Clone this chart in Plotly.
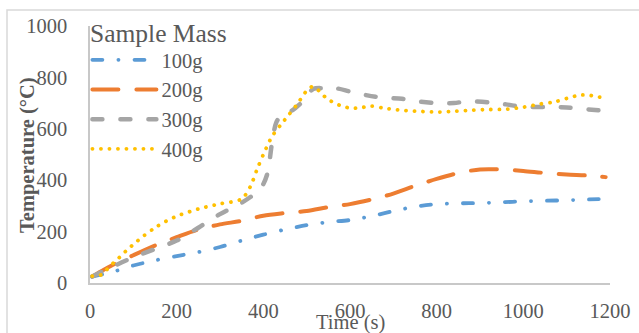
import plotly.graph_objects as go

# ---- data ----
series_names = ["100g", "200g", "300g", "400g"]
legend_title = "Sample Mass"

t_100 = [5, 50, 100, 150, 200, 250, 300, 350, 400, 450, 500, 550, 600, 650, 700,
         750, 800, 850, 900, 950, 1000, 1050, 1100, 1150, 1190]
T_100 = [25, 42, 68, 88, 105, 120, 140, 165, 188, 208, 225, 237, 245, 260, 280,
         297, 307, 310, 311, 314, 318, 320, 322, 325, 327]

t_200 = [5, 25, 50, 100, 150, 200, 250, 300, 350, 400, 450, 500, 550, 600, 650,
         700, 750, 800, 850, 900, 950, 1000, 1050, 1100, 1150, 1190]
T_200 = [25, 45, 68, 108, 146, 178, 208, 228, 242, 262, 272, 280, 295, 307, 325,
         348, 378, 405, 428, 442, 442, 436, 428, 422, 418, 412]

t_300 = [5, 50, 100, 150, 200, 250, 300, 350, 385, 400, 410, 420, 430, 445, 465,
         490, 515, 540, 570, 600, 640, 680, 720, 760, 800, 840, 870, 920, 960,
         1000, 1050, 1100, 1140, 1200]
T_300 = [25, 62, 100, 132, 165, 215, 268, 312, 354, 385, 430, 545, 625, 660, 670,
         705, 755, 758, 757, 745, 730, 720, 717, 706, 700, 700, 707, 703, 695,
         685, 685, 683, 677, 668]

t_400 = [5, 25, 40, 55, 70, 85, 100, 125, 150, 175, 200, 250, 300, 350, 370, 385,
         400, 420, 440, 460, 480, 500, 515, 530, 545, 560, 580, 600, 620, 650,
         680, 720, 760, 800, 840, 880, 920, 960, 1000, 1040, 1070, 1100, 1130,
         1150, 1185]
T_400 = [27, 31, 54, 80, 103, 128, 150, 185, 215, 240, 260, 288, 308, 327, 375,
         440, 500, 570, 615, 657, 700, 748, 765, 745, 720, 704, 689, 681, 681,
         688, 680, 672, 668, 665, 668, 672, 675, 676, 684, 697, 704, 718, 731,
         731, 720]

x_ticks = [0, 200, 400, 600, 800, 1000, 1200]
y_ticks = [0, 200, 400, 600, 800, 1000]

# ---- styling ----
colors = ["#5B9BD5", "#ED7D31", "#A5A5A5", "#FFC000"]
dashes = ["10px,16px,0.1px,16px", "26px,18px", "10px,18px", "0.1px,8.4px"]
widths = [3.8, 4, 4.5, 3.8]
FONT = "Liberation Serif, Times New Roman, serif"
GREY = "#595959"

xs = [t_100, t_200, t_300, t_400]
ys = [T_100, T_200, T_300, T_400]

fig = go.Figure()
for name, x, y, c, d, w in zip(series_names, xs, ys, colors, dashes, widths):
    fig.add_trace(go.Scatter(
        x=x, y=y, name=name, mode="lines",
        line=dict(color=c, dash=d, width=w, shape="spline", smoothing=0.8),
    ))

fig.update_layout(
    width=639, height=333,
    margin=dict(l=90, r=29, t=26, b=50),
    paper_bgcolor="white", plot_bgcolor="white",
    font=dict(family=FONT, color=GREY, size=20),
    showlegend=True,
    legend=dict(
        x=-0.005, xanchor="left", y=(283 - 40) / 257, yanchor="top",
        bgcolor="rgba(0,0,0,0)",
        font=dict(size=20.5, color=GREY, family=FONT),
        itemwidth=64,
        tracegroupgap=0,
        maxheight=320,
    ),
    xaxis=dict(
        range=[0, 1200], tickvals=x_ticks, ticktext=[str(v) for v in x_ticks],
        showgrid=False, zeroline=False, showline=True, linecolor="#C8C8C8",
        linewidth=1.5, ticks="", ticklabelstandoff=9, automargin=False,
        tickfont=dict(size=20.5, color=GREY, family=FONT),
    ),
    yaxis=dict(
        range=[0, 1000], tickvals=y_ticks, ticktext=[str(v) for v in y_ticks],
        showgrid=False, zeroline=False, showline=True, linecolor="#C8C8C8",
        linewidth=1.5, ticks="", ticklabelstandoff=17, automargin=False,
        tickfont=dict(size=20.5, color=GREY, family=FONT),
    ),
    annotations=[
        dict(text=legend_title, xref="paper", yref="paper",
             x=(88 - 90) / 520, y=(283 - 33) / 257,
             xanchor="left", yanchor="middle", showarrow=False,
             font=dict(size=25.5, color=GREY, family=FONT)),
        dict(text="Time (s)", xref="paper", yref="paper", x=0.5, y=(283 - 322) / 257,
             xanchor="center", yanchor="middle", showarrow=False,
             font=dict(size=20.5, color=GREY, family=FONT)),
        dict(text="<b>Temperature (°C)</b>", xref="paper", yref="paper",
             x=(27 - 90) / 520, y=(283 - 155) / 257, textangle=-90,
             xanchor="center", yanchor="middle", showarrow=False,
             font=dict(size=20.5, color=GREY, family=FONT)),
    ],
    shapes=[
        dict(type="rect", xref="paper", yref="paper",
             x0=(7 - 90) / 520, x1=(660 - 90) / 520,
             y0=(283 - 360) / 257, y1=(283 - 10) / 257,
             line=dict(color="#D9D9D9", width=1.5), fillcolor="rgba(0,0,0,0)",
             layer="below"),
    ],
)

post = (
    "document.body.style.margin='0';"
    "var gd=document.getElementById('{plot_id}');"
    "function rc(){gd.querySelectorAll('path.js-line').forEach(function(p){"
    "p.style.strokeLinecap='round';p.style.strokeLinejoin='round';});}"
    "rc();gd.on('plotly_afterplot',rc);"
)
fig.write_html("out.html", post_script=post, config={"displayModeBar": False})
